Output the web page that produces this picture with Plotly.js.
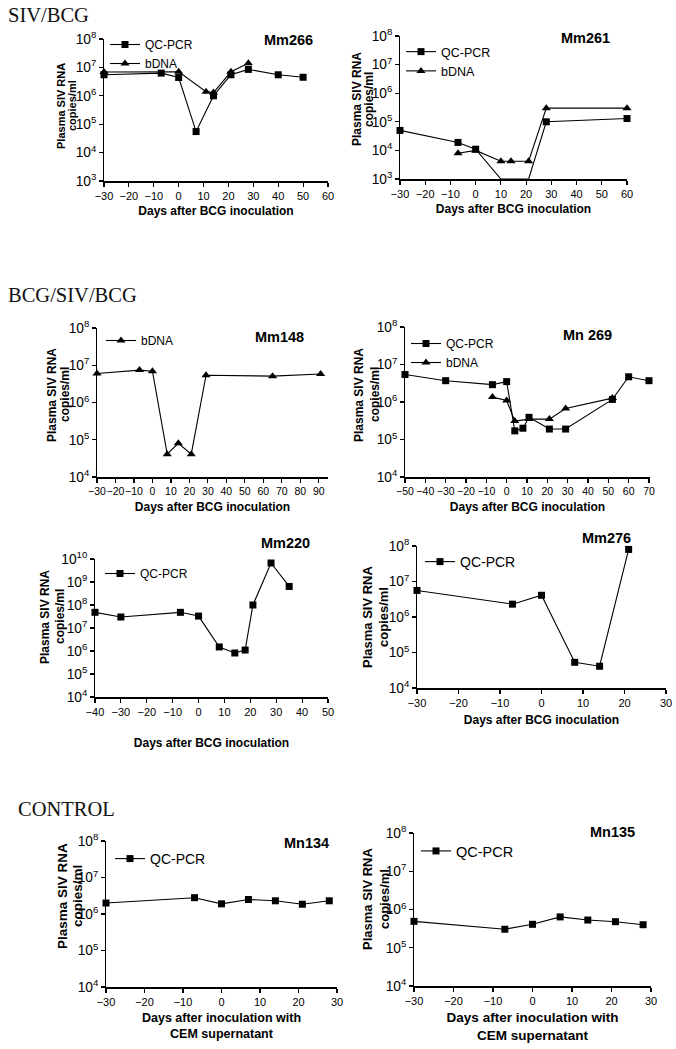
<!DOCTYPE html>
<html><head><meta charset="utf-8">
<script src="https://cdn.plot.ly/plotly-3.0.1.min.js"></script>
<style>html,body{margin:0;padding:0;background:#fff}#chart{width:676px;height:1049px}</style>
</head><body><div id="chart"></div>
<script>
// ---------- DATA ----------
const mm266_qc_days = [-30, -7, 0, 7, 14, 21, 28, 40, 50];
const mm266_qc      = [5.5e6, 6.3e6, 4.4e6, 5.5e4, 1.0e6, 5.5e6, 8.5e6, 5.5e6, 4.5e6];
const mm266_bd_days = [-30, 0, 11, 14, 21, 28];
const mm266_bd      = [6.9e6, 7.0e6, 1.4e6, 1.3e6, 7.0e6, 1.4e7];

const mm261_qc_days = [-30, -7, 0, 10, 14, 21, 28, 60];
const mm261_qc      = [5e4, 1.9e4, 1.1e4, 1e3, 1e3, 1e3, 1.0e5, 1.3e5];
const mm261_bd_days = [-7, 0, 10, 14, 21, 28, 60];
const mm261_bd      = [8e3, 1e4, 4.2e3, 4.2e3, 4.2e3, 3e5, 3e5];

const mm148_bd_days = [-30, -7, 0, 8, 14, 21, 29, 65, 91];
const mm148_bd      = [6e6, 7.4e6, 6.9e6, 4.1e4, 8e4, 4.1e4, 5.4e6, 5.1e6, 5.8e6];

const mn269_qc_days = [-50, -30, -7, 0, 4, 8, 11, 21, 29, 52, 60, 70];
const mn269_qc      = [5.4e6, 3.7e6, 2.9e6, 3.5e6, 1.7e5, 2.0e5, 3.9e5, 1.9e5, 1.9e5, 1.17e6, 4.7e6, 3.7e6];
const mn269_bd_days = [-7, 0, 4, 11, 21, 29, 52];
const mn269_bd      = [1.35e6, 1.1e6, 3.1e5, 3.5e5, 3.5e5, 6.7e5, 1.27e6];

const mm220_qc_days = [-40, -30, -7, 0, 8, 14, 18, 21, 28, 35];
const mm220_qc      = [4.8e7, 3e7, 4.8e7, 3.3e7, 1.5e6, 8.2e5, 1.1e6, 1e8, 6.7e9, 6.4e8];

const mm276_qc_days = [-30, -7, 0, 8, 14, 21];
const mm276_qc      = [5.6e6, 2.3e6, 4.1e6, 5.3e4, 4.1e4, 8e7];

const mn134_qc_days = [-30, -7, 0, 7, 14, 21, 28];
const mn134_qc      = [2.0e6, 2.8e6, 1.9e6, 2.5e6, 2.3e6, 1.85e6, 2.3e6];

const mn135_qc_days = [-30, -7, 0, 7, 14, 21, 28];
const mn135_qc      = [4.9e5, 3.05e5, 4.1e5, 6.4e5, 5.3e5, 4.8e5, 4.0e5];

const sectionLabels = ['SIV/BCG', 'BCG/SIV/BCG', 'CONTROL'];
const xTitleBCG = 'Days after BCG inoculation';
const xTitleCEM = 'Days after inoculation with<br>CEM supernatant';
const yTitleLines = ['Plasma SIV RNA', 'copies/ml'];

// ---------- LAYOUT ----------
const W = 676, H = 1049;
const fx = x => x / W, fy = y => 1 - y / H;
const SANS = 'Liberation Sans, Arial, Helvetica, sans-serif';
const SERIF = 'Liberation Serif, Times New Roman, serif';

// box: [left, right, top, bottom] in px; yt: [line1 x-centre, line2 x-centre, y-centre]
const panels = [
  {name:'Mm266', box:[104,328,39,181], xr:[-30,60], yr:[3,8],
   series:[['QC-PCR',mm266_qc_days,mm266_qc,'square'],['bDNA',mm266_bd_days,mm266_bd,'triangle-up']],
   xt:xTitleBCG, xts:12, xso:6, yts:11, yt:[61,72,106], tr:315, ty:40, lx:105, ly:30, lf:12, xtf:11},
  {name:'Mm261', box:[400,627,36,179], xr:[-30,60], yr:[3,8],
   series:[['QC-PCR',mm261_qc_days,mm261_qc,'square'],['bDNA',mm261_bd_days,mm261_bd,'triangle-up']],
   xt:xTitleBCG, xts:12, xso:6, yts:12, yt:[357,369,99], tr:612, ty:38, lx:401, ly:37, lf:12.5, xtf:11},
  {name:'Mm148', box:[97,328,328,477], xr:[-30,95], yr:[4,8],
   series:[['bDNA',mm148_bd_days,mm148_bd,'triangle-up']],
   xt:xTitleBCG, xts:12, xso:6, yts:12, yt:[52,65,395], tr:306, ty:337, lx:101, ly:326, lf:12, xtf:10.5},
  {name:'Mn 269', box:[405,650,327,477], xr:[-50,70.5], yr:[4,8],
   series:[['QC-PCR',mn269_qc_days,mn269_qc,'square'],['bDNA',mn269_bd_days,mn269_bd,'triangle-up']],
   xt:xTitleBCG, xts:12, xso:6, yts:12, yt:[359,375,395], tr:614, ty:335, lx:406, ly:329, lf:12, xtf:10.5},
  {name:'Mm220', box:[95,328,559,697], xr:[-40,50], yr:[4,10],
   series:[['QC-PCR',mm220_qc_days,mm220_qc,'square']],
   xt:xTitleBCG, xts:12, xso:22, yts:12, yt:[45,60,617], tr:312, ty:543, lx:100, ly:559, lf:12, xtf:11},
  {name:'Mm276', box:[417,666,546,688], xr:[-30,30], yr:[4,8],
   series:[['QC-PCR',mm276_qc_days,mm276_qc,'square']],
   xt:xTitleBCG, xts:12, xso:8, yts:13, yt:[367,383,617], tr:633, ty:538, lx:420, ly:546, lf:14, xtf:11},
  {name:'Mn134', box:[106,337,841,987], xr:[-30,30], yr:[4,8],
   series:[['QC-PCR',mn134_qc_days,mn134_qc,'square']],
   xt:xTitleCEM, xts:12.5, xso:6, yts:13.5, yt:[62,77,896], tr:331, ty:843, lx:110, ly:843, lf:14, xtf:11},
  {name:'Mn135', box:[414,651,833,986], xr:[-30,30], yr:[4,8],
   series:[['QC-PCR',mn135_qc_days,mn135_qc,'square']],
   xt:xTitleCEM, xts:13.5, xso:7, yts:13, yt:[367,384,899], tr:637, ty:832, lx:416, ly:835, lf:14.5, xtf:11},
];

const traces = [];
const layout = {
  width: W, height: H, margin: {l:0, r:0, t:0, b:0},
  paper_bgcolor: '#fff', plot_bgcolor: '#fff',
  font: {family: SANS, color: '#000', size: 11},
  showlegend: true, annotations: []
};

panels.forEach((p, i) => {
  const n = i + 1;
  const xa = 'xaxis' + (n === 1 ? '' : n), ya = 'yaxis' + (n === 1 ? '' : n);
  const xref = 'x' + (n === 1 ? '' : n), yref = 'y' + (n === 1 ? '' : n);
  const lg = 'legend' + (n === 1 ? '' : n);
  const [x0, x1, y0, y1] = p.box;
  layout[xa] = {
    domain: [fx(x0), fx(x1)], anchor: yref, range: p.xr, type: 'linear',
    tick0: 0, dtick: 10, tickangle: 0, ticks: 'outside', ticklen: 4, tickwidth: 1.2, tickcolor: '#000',
    showline: true, linewidth: 1.5, linecolor: '#000', mirror: false,
    showgrid: false, zeroline: false, fixedrange: true,
    tickfont: {family: SANS, size: p.xtf, color: '#000'},
    title: {text: p.xt, standoff: p.xso, font: {family: SANS, size: p.xts, weight: 'bold', color: '#000'}}
  };
  layout[ya] = {
    domain: [fy(y1), fy(y0)], anchor: xref, range: p.yr, type: 'log',
    dtick: 1, exponentformat: 'power', ticks: 'outside', ticklen: 4, tickwidth: 1.2, tickcolor: '#000',
    showline: true, linewidth: 1.5, linecolor: '#000', mirror: false,
    showgrid: false, zeroline: false, fixedrange: true,
    tickfont: {family: SANS, size: 11, color: '#000'}
  };
  layout[lg] = {
    x: fx(p.lx), y: fy(p.ly), xanchor: 'left', yanchor: 'top',
    bgcolor: 'rgba(0,0,0,0)', borderwidth: 0, tracegroupgap: 0,
    font: {family: SANS, size: p.lf, color: '#000'}
  };
  p.series.forEach(s => {
    traces.push({
      type: 'scatter', mode: 'lines+markers', name: s[0], x: s[1], y: s[2],
      xaxis: xref, yaxis: yref, legend: lg, showlegend: true,
      line: {color: '#000', width: 1.1},
      marker: {symbol: s[3], size: s[3] === 'square' ? 7 : 8, color: '#000'},
      cliponaxis: false
    });
  });
  // panel (animal) title
  layout.annotations.push({
    text: p.name, xref: 'paper', yref: 'paper', x: fx(p.tr), y: fy(p.ty),
    xanchor: 'right', yanchor: 'middle', showarrow: false,
    font: {family: SANS, size: 14.5, weight: 'bold', color: '#000'}
  });
  // y-axis title, two rotated lines
  yTitleLines.forEach((t, k) => {
    layout.annotations.push({
      text: t, xref: 'paper', yref: 'paper', x: fx(p.yt[k]), y: fy(p.yt[2]),
      xanchor: 'center', yanchor: 'middle', textangle: -90, showarrow: false,
      font: {family: SANS, size: p.yts, weight: 'bold', color: '#000'}
    });
  });
});

const secPos = [[6, 15], [6, 295], [16, 809]];
sectionLabels.forEach((t, i) => {
  layout.annotations.push({
    text: t, xref: 'paper', yref: 'paper', x: fx(secPos[i][0]), y: fy(secPos[i][1]),
    xanchor: 'left', yanchor: 'middle', showarrow: false,
    font: {family: SERIF, size: 20.5, color: '#111'}
  });
});

Plotly.newPlot('chart', traces, layout, {displayModeBar: false, staticPlot: true});
</script></body></html>
